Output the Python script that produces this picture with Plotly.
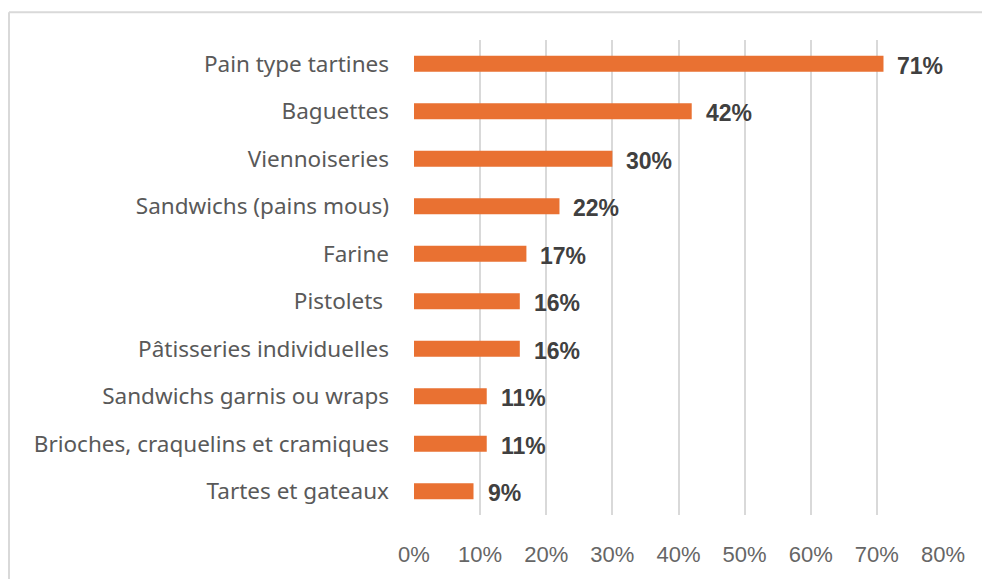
import plotly.graph_objects as go

# Share of respondents per bakery product (top to bottom)
categories = [
    "Pain type tartines",
    "Baguettes",
    "Viennoiseries",
    "Sandwichs (pains mous)",
    "Farine",
    "Pistolets ",
    "Pâtisseries individuelles",
    "Sandwichs garnis ou wraps",
    "Brioches, craquelins et cramiques",
    "Tartes et gateaux",
]
values = [71, 42, 30, 22, 17, 16, 16, 11, 11, 9]
x_ticks = [0, 10, 20, 30, 40, 50, 60, 70, 80]
x_tick_labels = [f"{t}%" for t in x_ticks]

W, H = 982, 579
L, R, T, B = 414, 39, 40, 59
pw, ph = W - L - R, H - T - B

fig = go.Figure()
fig.add_trace(go.Bar(
    x=values,
    y=categories,
    orientation="h",
    width=0.34,
    marker=dict(color="#E97132", line=dict(width=0)),
    hoverinfo="skip",
))

# value labels to the right of each bar
for c, v in zip(categories, values):
    fig.add_annotation(
        x=v, y=c, xref="x", yref="y",
        text=f"<b>{v}%</b>",
        showarrow=False, xanchor="left", yanchor="middle",
        xshift=12, yshift=-2,
        font=dict(family="Liberation Sans, Arial, sans-serif", size=23, color="#404040"),
    )

# outer frame (top and left edges visible)
fx0 = (9 - L) / pw
fy1 = 1 + (T - 12) / ph
fx1 = (W + 10 - L) / pw
fy0 = -(B + 10) / ph
fig.add_shape(type="line", xref="paper", yref="paper", x0=fx0, x1=fx1, y0=fy1, y1=fy1,
              line=dict(color="#D9D9D9", width=2), layer="below")
fig.add_shape(type="line", xref="paper", yref="paper", x0=fx0, x1=fx0, y0=fy0, y1=fy1,
              line=dict(color="#D9D9D9", width=2), layer="below")

fig.update_layout(
    width=W, height=H,
    margin=dict(l=L, r=R, t=T, b=B, pad=0),
    paper_bgcolor="white",
    plot_bgcolor="white",
    showlegend=False,
    bargap=0.66,
    xaxis=dict(
        range=[0, 80],
        tickvals=x_ticks,
        ticktext=x_tick_labels,
        showgrid=True,
        gridcolor="#D9D9D9",
        gridwidth=2,
        zeroline=False,
        showline=False,
        ticks="",
        ticklabelstandoff=24,
        tickfont=dict(family="Liberation Sans, Arial, sans-serif", size=22, color="#666666"),
        fixedrange=True,
    ),
    yaxis=dict(
        autorange="reversed",
        showgrid=False,
        zeroline=False,
        showline=False,
        ticks="",
        ticklabelstandoff=24,
        tickfont=dict(family="Noto Sans, sans-serif", size=22.5, color="#595959"),
        fixedrange=True,
    ),
)

fig.write_html("out.html")
